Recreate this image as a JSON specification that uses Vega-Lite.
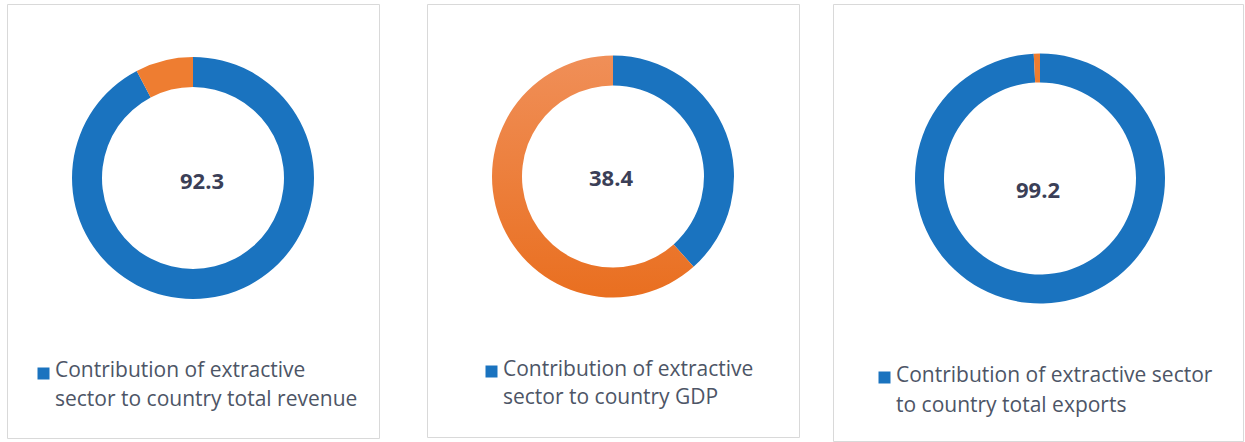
{
  "$schema": "https://vega.github.io/schema/vega-lite/v6.json",
  "background": "white",
  "padding": {"left": 6, "top": 3, "right": 0, "bottom": 0},
  "config": {
    "view": {"stroke": "#d9d9d9", "strokeWidth": 1},
    "font": "Open Sans"
  },
  "spacing": 46,
  "resolve": {"scale": {"color": "independent", "theta": "independent"}, "legend": {"color": "independent"}},
  "hconcat": [
    {
      "width": 372,
      "height": 434,
      "view": {"stroke": "#d9d9d9", "strokeWidth": 1},
      "data": {"values": [
        {"category": "Contribution of extractive sector to country total revenue", "value": 92.3},
        {"category": "Other sectors", "value": 7.7}
      ]},
      "layer": [
        {
          "mark": {"type": "arc", "outerRadius": 121, "innerRadius": 91, "y": 174},
          "encoding": {
            "theta": {"field": "value", "type": "quantitative", "stack": true},
            "color": {
              "field": "category", "type": "nominal",
              "scale": {"domain": ["Contribution of extractive sector to country total revenue", "Other sectors"], "range": ["#1a73bf", "#ee7d31"]},
              "legend": {
                "orient": "none", "legendX": 26, "legendY": 359, "title": null,
                "values": ["Contribution of extractive sector to country total revenue"],
                "symbolType": "square", "symbolSize": 144, "symbolStrokeWidth": 0,
                "labelFont": "Open Sans", "labelFontSize": 21, "labelColor": "#4d5566",
                "labelLimit": 0, "labelBaseline": "alphabetic", "labelOffset": 1,
                "labelExpr": "['Contribution of extractive', 'sector to country total revenue']",
                "encode": {
                  "symbols": {"update": {"fill": {"value": "#3c65be"}, "stroke": {"value": "transparent"}}},
                  "labels": {"update": {"lineHeight": {"value": 29}, "dy": {"value": 3}}}
                }
              }
            }
          }
        },
        {
          "transform": [{"filter": "datum.category !== 'Other sectors'"}],
          "mark": {"type": "text", "fontWeight": "bold", "fontSize": 22, "color": "#3b3f57", "dx": 9, "y": 185, "baseline": "alphabetic", "align": "center"},
          "encoding": {"text": {"field": "value", "type": "quantitative", "format": ".1f"}}
        }
      ]
    },
    {
      "spacing": 32,
      "resolve": {"scale": {"color": "independent", "theta": "independent"}, "legend": {"color": "independent"}},
      "hconcat": [
        {
          "width": 372,
          "height": 433,
          "view": {"stroke": "#d9d9d9", "strokeWidth": 1},
          "data": {"values": [
            {"category": "Contribution of extractive sector to country GDP", "value": 38.4},
            {"category": "Other sectors", "value": 61.6}
          ]},
          "layer": [
            {
              "mark": {"type": "arc", "outerRadius": 121, "innerRadius": 91, "y": 172.5},
              "encoding": {
                "theta": {"field": "value", "type": "quantitative", "stack": true},
                "color": {
                  "condition": {"test": "datum.category === 'Other sectors'", "value": {"gradient": "linear", "x1": 0, "y1": 0, "x2": 0, "y2": 1, "stops": [{"offset": 0, "color": "#f08f58"}, {"offset": 1, "color": "#e96f20"}]}},
                  "field": "category", "type": "nominal",
                  "scale": {"domain": ["Contribution of extractive sector to country GDP", "Other sectors"], "range": ["#1a73bf", "#ed7b2f"]},
                  "legend": {
                    "orient": "none", "legendX": 54, "legendY": 357, "title": null,
                    "values": ["Contribution of extractive sector to country GDP"],
                    "symbolType": "square", "symbolSize": 144, "symbolStrokeWidth": 0,
                    "labelFont": "Open Sans", "labelFontSize": 21, "labelColor": "#4d5566",
                    "labelLimit": 0, "labelBaseline": "alphabetic", "labelOffset": 1,
                    "labelExpr": "['Contribution of extractive', 'sector to country GDP']",
                    "encode": {
                      "symbols": {"update": {"fill": {"value": "#3c65be"}, "stroke": {"value": "transparent"}}},
                      "labels": {"update": {"lineHeight": {"value": 28}, "dy": {"value": 4}}}
                    }
                  }
                }
              }
            },
            {
              "transform": [{"filter": "datum.category !== 'Other sectors'"}],
              "mark": {"type": "text", "fontWeight": "bold", "fontSize": 22, "color": "#3b3f57", "dx": -2, "y": 182, "baseline": "alphabetic", "align": "center"},
              "encoding": {"text": {"field": "value", "type": "quantitative", "format": ".1f"}}
            }
          ]
        },
        {
          "width": 410,
          "height": 437,
          "view": {"stroke": "#d9d9d9", "strokeWidth": 1},
          "data": {"values": [
            {"category": "Contribution of extractive sector to country total exports", "value": 99.2},
            {"category": "Other sectors", "value": 0.8}
          ]},
          "layer": [
            {
              "mark": {"type": "arc", "outerRadius": 125, "innerRadius": 96, "x": 207, "y": 174.5},
              "encoding": {
                "theta": {"field": "value", "type": "quantitative", "stack": true},
                "color": {
                  "field": "category", "type": "nominal",
                  "scale": {"domain": ["Contribution of extractive sector to country total exports", "Other sectors"], "range": ["#1a73bf", "#ee7d31"]},
                  "legend": {
                    "orient": "none", "legendX": 41, "legendY": 363, "title": null,
                    "values": ["Contribution of extractive sector to country total exports"],
                    "symbolType": "square", "symbolSize": 144, "symbolStrokeWidth": 0,
                    "labelFont": "Open Sans", "labelFontSize": 21, "labelColor": "#4d5566",
                    "labelLimit": 0, "labelBaseline": "alphabetic", "labelOffset": 1,
                    "labelExpr": "['Contribution of extractive sector', 'to country total exports']",
                    "encode": {
                      "symbols": {"update": {"fill": {"value": "#3c65be"}, "stroke": {"value": "transparent"}}},
                      "labels": {"update": {"lineHeight": {"value": 30}, "dy": {"value": 4}}}
                    }
                  }
                }
              }
            },
            {
              "transform": [{"filter": "datum.category !== 'Other sectors'"}],
              "mark": {"type": "text", "fontWeight": "bold", "fontSize": 22, "color": "#3b3f57", "dx": 0, "y": 194, "baseline": "alphabetic", "align": "center"},
              "encoding": {"text": {"field": "value", "type": "quantitative", "format": ".1f"}}
            }
          ]
        }
      ]
    }
  ]
}
